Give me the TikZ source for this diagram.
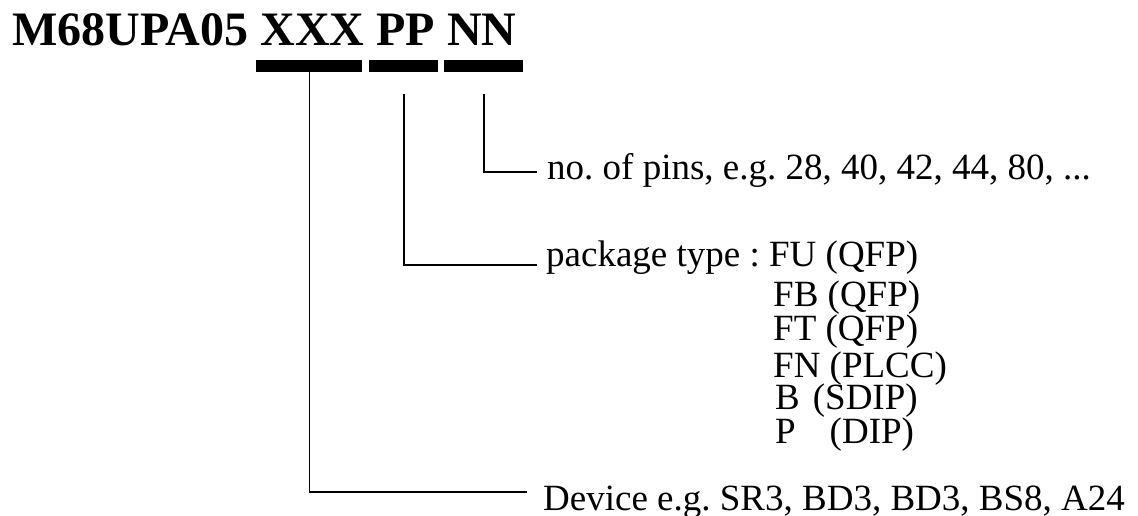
\documentclass[tikz,border=0pt]{standalone}
\usepackage{fontspec}
\setmainfont{Liberation Serif}
\frenchspacing
\begin{document}
\begin{tikzpicture}[x=1pt,y=-1pt,
  txt/.style={anchor=base west, inner sep=0pt, font=\fontsize{37}{37}\selectfont},
  bar/.style={fill=black, inner sep=0pt, minimum height=12pt, anchor=north west},
  conn/.style={line width=1.3pt}]
\useasboundingbox (0,0) rectangle (1138,516);
\node[anchor=base west, inner sep=0pt, font=\fontsize{48}{48}\selectfont\bfseries] (title) at (12,46) {M68UPA05 XXX PP NN};
\node[bar, minimum width=106pt] (bx) at (256,60) {};
\node[bar, minimum width=69pt] (bp) at (369,60) {};
\node[bar, minimum width=79pt] (bn) at (444,60) {};
\coordinate (px) at (404,94);
\coordinate (nx) at (484,94);
\node[txt] (pins) at (547,179) {no. of pins, e.g. 28, 40, 42, 44, 80, ...};
\node[txt] (pkg) at (546,266) {package type : FU (QFP)};
\node[txt] (fb) at (773,306) {FB (QFP)};
\node[txt] (ft) at (773,340) {FT (QFP)};
\node[txt] (fn) at (773,377) {FN (PLCC)};
\node[txt] (b) at (775,409) {B\hspace{13pt}(SDIP)};
\node[txt] (p) at (775,443) {P\hspace{34pt}(DIP)};
\node[txt] (dev) at (543,510) {Device e.g. SR3, BD3, BD3, BS8, A24};
\coordinate (pinsend) at (537,172);
\coordinate (pkgend) at (537,265);
\coordinate (devend) at (527,492);
\draw[conn] (nx) |- (pinsend);
\draw[conn] (px) |- (pkgend);
\draw[conn] (bx.south) |- (devend);
\end{tikzpicture}
\end{document}
